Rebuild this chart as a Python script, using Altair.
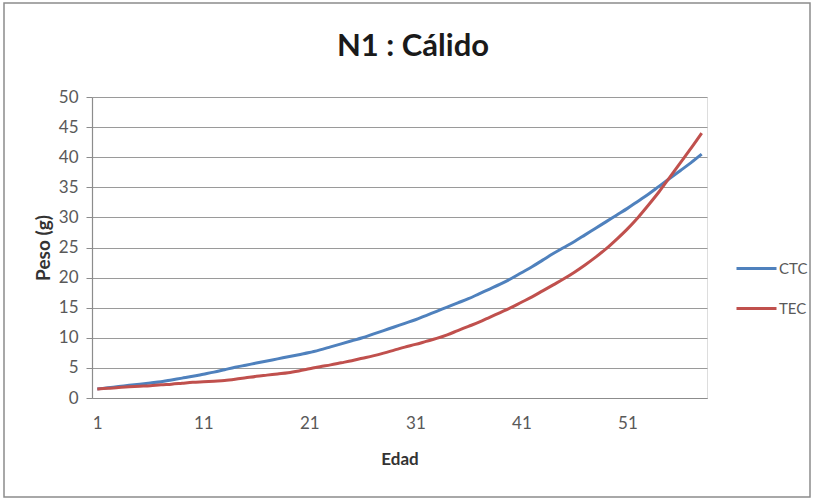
import altair as alt
import pandas as pd

# Age (days) and weight (g) for the two treatments
edad = list(range(1, 59))

ctc = [1.5, 1.7, 1.9, 2.1, 2.3, 2.5, 2.7, 3.0, 3.3, 3.6,
       3.95, 4.3, 4.7, 5.1, 5.45, 5.8, 6.15, 6.5, 6.85, 7.2,
       7.55, 8.0, 8.5, 9.0, 9.5, 10.0, 10.6, 11.2, 11.8, 12.4,
       13.0, 13.7, 14.4, 15.1, 15.8, 16.5, 17.3, 18.1, 18.9, 19.8,
       20.8, 21.8, 22.9, 24.0, 25.0, 26.0, 27.1, 28.2, 29.3, 30.4,
       31.5, 32.7, 33.9, 35.2, 36.5, 37.8, 39.1, 40.5]

tec = [1.5, 1.6, 1.75, 1.85, 1.95, 2.05, 2.2, 2.3, 2.45, 2.6,
       2.7, 2.8, 2.9, 3.1, 3.35, 3.6, 3.8, 4.0, 4.2, 4.5,
       4.85, 5.2, 5.5, 5.85, 6.2, 6.6, 7.0, 7.45, 7.95, 8.45,
       8.9, 9.4, 9.9, 10.5, 11.2, 11.9, 12.6, 13.4, 14.2, 15.0,
       15.9, 16.8, 17.8, 18.8, 19.8, 20.9, 22.1, 23.4, 24.8, 26.4,
       28.1, 30.0, 32.1, 34.3, 36.7, 39.1, 41.5, 44.0]

series = ["CTC", "TEC"]
colores = ["#4F81BD", "#C0504D"]
x_ticks = [1, 11, 21, 31, 41, 51]
y_ticks = list(range(0, 51, 5))
titulo = "N1 : Cálido"

df = pd.DataFrame({
    "Edad": edad * 2,
    "Peso": ctc + tec,
    "Serie": ["CTC"] * len(edad) + ["TEC"] * len(edad),
})

FONT = "Lato"
W, H = 615, 301
LEFT, TOP = 92, 97

lines = alt.Chart(df).mark_line(strokeWidth=3, interpolate="monotone").encode(
    x=alt.X("Edad:Q",
            scale=alt.Scale(domain=[0.5, 58.5], nice=False, zero=False),
            axis=alt.Axis(values=x_ticks, title="Edad", grid=False, ticks=False,
                          domainColor="#8c8c8c", domainWidth=1.2,
                          labelPadding=17, titlePadding=20,
                          labelFont=FONT, labelFontSize=17, labelColor="#595959",
                          titleFont=FONT, titleFontSize=17, titleFontWeight="bold",
                          titleColor="#333333")),
    y=alt.Y("Peso:Q",
            scale=alt.Scale(domain=[0, 50], nice=False),
            axis=alt.Axis(values=y_ticks, title="Peso (g)", grid=True,
                          gridColor="#9a9a9a", gridWidth=1.2,
                          domainColor="#8c8c8c", domainWidth=1.2,
                          tickColor="#8c8c8c", tickSize=6,
                          labelPadding=8, titlePadding=5,
                          labelFont=FONT, labelFontSize=17, labelColor="#595959",
                          titleFont=FONT, titleFontSize=19, titleFontWeight="bold",
                          titleColor="#333333")),
    color=alt.Color("Serie:N",
                    scale=alt.Scale(domain=series, range=colores),
                    legend=alt.Legend(title=None, orient="none",
                                      legendX=643, legendY=150,
                                      symbolType="stroke", symbolSize=1600,
                                      symbolStrokeWidth=3, labelOffset=1,
                                      rowPadding=10,
                                      labelFont=FONT, labelFontSize=15,
                                      labelColor="#595959")),
)

one_row = pd.DataFrame({"t": [titulo]})

# Outer frame around the whole chart
frame = alt.Chart(one_row).mark_rect(
    fill=None, stroke="#8c8c8c", strokeWidth=1.5
).encode(
    x=alt.value(4 - LEFT), x2=alt.value(810 - LEFT),
    y=alt.value(3 - TOP), y2=alt.value(497 - TOP),
)

# Chart title, centred above the plot
title = alt.Chart(one_row).mark_text(
    font=FONT, fontSize=31, fontWeight="bold", color="#1a1a1a",
    align="center", baseline="middle"
).encode(
    text="t:N",
    x=alt.value(413 - LEFT), y=alt.value(47 - TOP),
)

chart = alt.layer(frame, title, lines).properties(
    width=W, height=H,
    autosize=alt.AutoSizeParams(type="none"),
    padding={"left": LEFT, "top": TOP, "right": 815 - LEFT - W, "bottom": 499 - TOP - H},
).configure_view(stroke=None).configure(background="white")

chart.save("out.html", embed_options={"renderer": "svg", "actions": False})
